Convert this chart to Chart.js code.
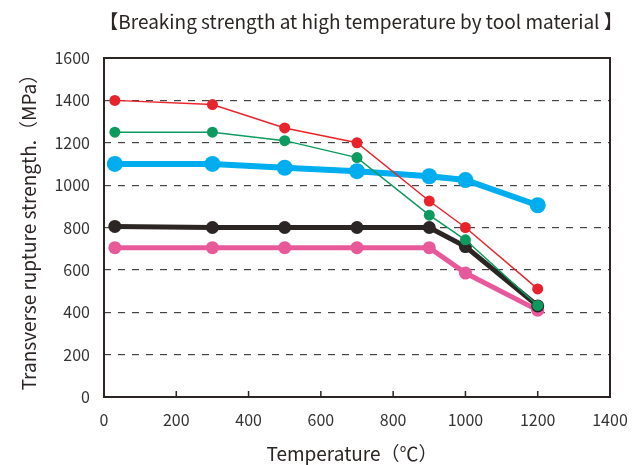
<!DOCTYPE html>
<html><head><meta charset="utf-8">
<script src="https://cdn.jsdelivr.net/npm/chart.js@4.4.0/dist/chart.umd.min.js"></script>
<style>html,body{margin:0;padding:0;background:#fff}#wrap{width:642px;height:465px}</style>
</head><body><div id="wrap"><canvas id="c" width="642" height="465"></canvas></div>
<script>
const temperatures = [30, 300, 500, 700, 900, 1000, 1200];
const redSeries   = [1400, 1380, 1270, 1200, 925, 800, 510];
const greenSeries = [1250, 1250, 1210, 1130, 858, 742, 432];
const blueSeries  = [1100, 1100, 1082, 1066, 1042, 1024, 905];
const blackSeries = [805, 800, 800, 800, 800, 710, 430];
const pinkSeries  = [705, 705, 705, 705, 705, 585, 410];
const xTicks = [0, 200, 400, 600, 800, 1000, 1200, 1400];
const yTicks = [0, 200, 400, 600, 800, 1000, 1200, 1400, 1600];
const titleText = '【Breaking strength at high temperature by tool material 】';
const xTitle = 'Temperature（℃）';
const yTitle = 'Transverse rupture strength.（MPa）';

const FONT = '"Noto Sans CJK JP", "Noto Sans", sans-serif';
const toPts = (arr) => arr.map((v, i) => ({x: temperatures[i], y: v}));
function ds(label, data, color, bw, r, order) {
  return {label, data: toPts(data), borderColor: color, backgroundColor: color,
    borderWidth: bw, pointRadius: r, pointHoverRadius: r, pointBorderWidth: 0,
    tension: 0, order};
}

const framePlugin = {
  id: 'frame',
  beforeDatasetsDraw(chart) {
    const {ctx, chartArea: a, scales} = chart;
    ctx.save();
    ctx.strokeStyle = '#2b2523';
    ctx.lineWidth = 1.5;
    xTicks.forEach(v => {
      if (v <= 0 || v >= 1400) return;
      const px = scales.x.getPixelForValue(v);
      ctx.beginPath(); ctx.moveTo(px, a.bottom); ctx.lineTo(px, a.bottom - 6); ctx.stroke();
    });
    ctx.lineWidth = 2;
    ctx.strokeRect(a.left, a.top, a.right - a.left, a.bottom - a.top);
    ctx.restore();
  },
  afterDraw(chart) {
    const {ctx, chartArea: a} = chart;
    ctx.save();
    ctx.fillStyle = '#2b2523';
    ctx.textAlign = 'center';
    ctx.textBaseline = 'middle';
    ctx.font = '19px ' + FONT;
    ctx.fillText(titleText, 361, 22);
    ctx.fillText(xTitle, (a.left + a.right) / 2 - 5, 454);
    ctx.translate(29, (a.top + a.bottom) / 2);
    ctx.rotate(-Math.PI / 2);
    ctx.fillText(yTitle, 0, 0);
    ctx.restore();
  }
};

new Chart(document.getElementById('c'), {
  type: 'line',
  data: {datasets: [
    ds('red', redSeries, '#e8232b', 1.5, 5.5, 2),
    ds('green', greenSeries, '#0d9a5e', 1.5, 5.5, 1),
    ds('blue', blueSeries, '#00aeef', 6, 8, 3),
    ds('black', blackSeries, '#2b2523', 5, 6.5, 4),
    ds('pink', pinkSeries, '#e8599c', 5, 6.5, 5)
  ]},
  options: {
    responsive: false, animation: false, devicePixelRatio: 1,
    layout: {padding: {top: 58, right: 32, left: 0, bottom: 0}},
    plugins: {legend: {display: false}, title: {display: false}, tooltip: {enabled: false}},
    scales: {
      x: {type: 'linear', min: 0, max: 1400,
        afterFit(s) { s.height = 68; },
        afterBuildTicks(s) { s.ticks = xTicks.map(v => ({value: v})); },
        border: {display: false},
        grid: {display: false},
        ticks: {color: '#333', font: {size: 16, family: FONT}, padding: 5, maxRotation: 0,
          callback: (v) => String(v)}
      },
      y: {min: 0, max: 1600,
        afterFit(s) { s.width = 104; },
        afterBuildTicks(s) { s.ticks = yTicks.map(v => ({value: v})); },
        border: {display: false, dash: [7, 7]},
        grid: {drawTicks: false, lineWidth: 1.2,
          color: (c) => (c.tick && (c.tick.value === 0 || c.tick.value === 1600)) ? 'rgba(0,0,0,0)' : '#444'},
        ticks: {color: '#333', font: {size: 16, family: FONT}, padding: 14,
          callback: (v) => String(v)}
      }
    }
  },
  plugins: [framePlugin]
});
</script></body></html>
